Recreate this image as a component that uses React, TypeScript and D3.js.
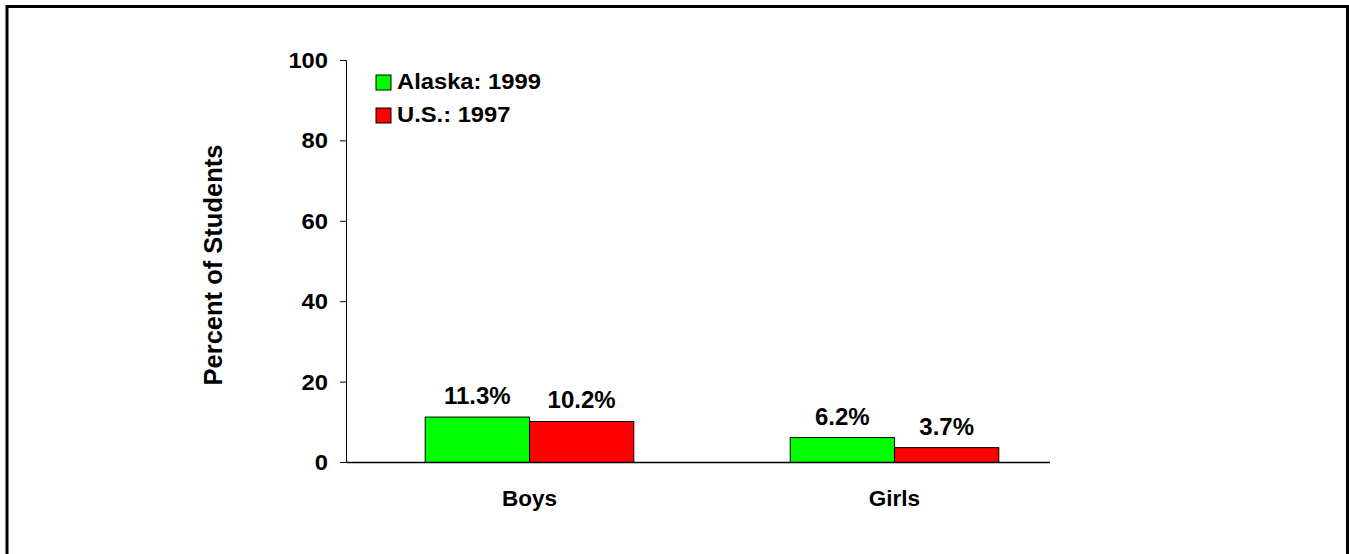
import React from 'react';
import * as d3 from 'd3';

const categories = ['Boys', 'Girls'];
const seriesNames = ['Alaska: 1999', 'U.S.: 1997'];
const seriesColors = ['#00FF00', '#FF0000'];
const alaska1999 = [11.3, 6.2];
const us1997 = [10.2, 3.7];
const yTicks = [0, 20, 40, 60, 80, 100];

const FONT = '"Liberation Sans", Arial, sans-serif';

const App: React.FC = () => {
  const width = 1349;
  const height = 554;

  const y = d3.scaleLinear().domain([0, 100]).range([462.5, 60.5]);
  const x = d3.scalePoint<string>().domain(categories).range([347, 1077]).padding(0.5);
  const barW = 104.3;
  const axisX = 346.5;
  const axisEnd = 1050;

  const series = [alaska1999, us1997];

  return (
    <svg width={width} height={height} style={{ position: 'absolute', left: 0, top: 0, background: '#fff' }}
      fontFamily={FONT} fontWeight="bold">
      <rect x={7} y={6.5} width={1340.5} height={600} fill="#fff" stroke="#000" strokeWidth={3} />

      {/* bars */}
      {categories.map((c, i) =>
        series.map((s, k) => {
          const x0 = (x(c) as number) - barW + k * barW;
          return (
            <g key={c + k}>
              <rect x={x0} y={y(s[i])} width={barW} height={y(0) - y(s[i])}
                fill={seriesColors[k]} stroke="#000" strokeWidth={1} />
              <text x={x0 + barW / 2} y={y(s[i]) - 13} textAnchor="middle" fontSize={24}>
                {s[i].toFixed(1)}%
              </text>
            </g>
          );
        })
      )}

      {/* y axis */}
      <line x1={axisX} x2={axisX} y1={y(100)} y2={y(0)} stroke="#000" strokeWidth={1} />
      {yTicks.map(t => (
        <g key={t}>
          <line x1={340} x2={axisX} y1={y(t)} y2={y(t)} stroke="#000" strokeWidth={1} />
          <text x={328} y={y(t) + 7.5} textAnchor="end" fontSize={22}
            transform={`translate(328,0) scale(1.08,1) translate(-328,0)`}>{t}</text>
        </g>
      ))}
      {/* x axis */}
      <line x1={axisX} x2={axisEnd} y1={y(0)} y2={y(0)} stroke="#000" strokeWidth={1.3} />
      {categories.map(c => (
        <text key={c} x={x(c)} y={506} textAnchor="middle" fontSize={22.5}>{c}</text>
      ))}

      <text transform={`translate(222,265) rotate(-90)`} textAnchor="middle" fontSize={25.5}>
        Percent of Students
      </text>

      {/* legend */}
      {seriesNames.map((n, k) => (
        <g key={n} transform={`translate(376,${75 + k * 33})`}>
          <rect x={0} y={0} width={15} height={15} fill={seriesColors[k]} stroke="#000" strokeWidth={1} />
          <text x={21} y={14} fontSize={22} transform="translate(21,0) scale(1.08,1) translate(-21,0)">{n}</text>
        </g>
      ))}
    </svg>
  );
};

export default App;
